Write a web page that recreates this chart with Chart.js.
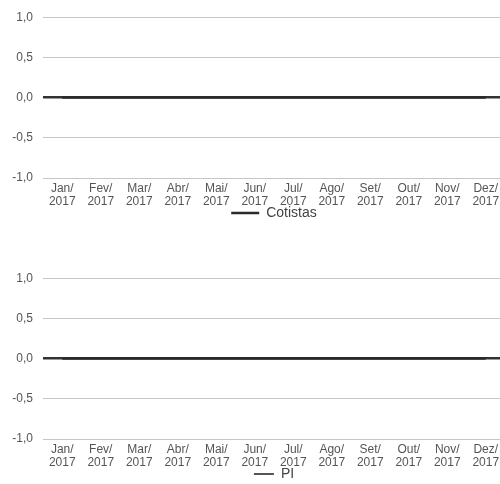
<!DOCTYPE html>
<html>
<head>
<meta charset="utf-8">
<script src="https://cdn.jsdelivr.net/npm/chart.js@4"></script>
<style>
  html, body { margin: 0; padding: 0; background: #fff; overflow: hidden; }
  body { width: 500px; height: 484px; position: relative; }
  .wrap { position: absolute; left: 0; width: 507px; height: 230px; }
  #w1 { top: 0; }
  #w2 { top: 261px; }
</style>
</head>
<body>
<div class="wrap" id="w1"><canvas id="c1"></canvas></div>
<div class="wrap" id="w2"><canvas id="c2"></canvas></div>
<script>
// Monthly categories (two-line labels: month / year)
const months = ["Jan/", "Fev/", "Mar/", "Abr/", "Mai/", "Jun/", "Jul/", "Ago/", "Set/", "Out/", "Nov/", "Dez/"];
const year = "2017";
// Y axis tick values and their printed labels
const yTicks = [1.0, 0.5, 0.0, -0.5, -1.0];
const yTickLabels = ["1,0", "0,5", "0,0", "-0,5", "-1,0"];
// Series values per month
const cotistas = [0, 0, 0, 0, 0, 0, 0, 0, 0, 0, 0, 0];
const pl = [0, 0, 0, 0, 0, 0, 0, 0, 0, 0, 0, 0];

const labels = months.map(m => [m, year]);
const FONT = "'Liberation Sans', Arial, sans-serif";

// Center the legend under the plot area instead of the whole canvas
const legendUnderPlot = {
  id: 'legendUnderPlot',
  afterLayout(chart) {
    const lg = chart.legend;
    if (!lg) return;
    const plotCenter = (chart.chartArea.left + chart.chartArea.right) / 2;
    const boxCenter = (lg.left + lg.right) / 2;
    const dx = plotCenter - boxCenter;
    lg.left += dx;
    lg.right += dx;
  }
};

function makeChart(canvasId, seriesName, values, lineColor, keyColor, keyWidth, keyHeight) {
  return new Chart(document.getElementById(canvasId), {
    type: 'line',
    data: {
      labels: labels,
      datasets: [{
        label: seriesName,
        data: values,
        borderColor: lineColor,
        backgroundColor: keyColor,
        borderWidth: 2.5,
        pointRadius: 0,
        tension: 0
      }]
    },
    plugins: [legendUnderPlot],
    options: {
      responsive: true,
      maintainAspectRatio: false,
      animation: false,
      layout: { padding: { top: 17, right: 2, left: 0, bottom: 0 } },
      plugins: {
        tooltip: { enabled: false },
        legend: {
          position: 'bottom',
          labels: {
            boxWidth: keyWidth,
            boxHeight: keyHeight,
            padding: 1,
            color: '#444',
            font: { family: FONT, size: 14 },
            generateLabels: chart => chart.data.datasets.map((ds, i) => ({
              text: ds.label,
              fillStyle: ds.backgroundColor,
              strokeStyle: ds.backgroundColor,
              lineWidth: 0,
              fontColor: '#444',
              datasetIndex: i
            }))
          }
        }
      },
      scales: {
        x: {
          offset: true,
          grid: { display: false, drawTicks: false },
          border: { display: false },
          ticks: {
            padding: 4,
            maxRotation: 0,
            autoSkip: false,
            color: '#555',
            font: { family: FONT, size: 12, lineHeight: 1.1 }
          },
          afterFit: s => { s.height = 27; }
        },
        y: {
          min: -1,
          max: 1,
          afterBuildTicks: s => { s.ticks = yTicks.map(v => ({ value: v })); },
          afterFit: s => { s.width = 43; },
          border: { display: false },
          grid: {
            drawTicks: false,
            color: ctx => ctx.tick && ctx.tick.value === 0 ? '#333' : '#c6c6c6',
            lineWidth: ctx => ctx.tick && ctx.tick.value === 0 ? 2.5 : 1
          },
          ticks: {
            padding: 10,
            color: '#555',
            font: { family: FONT, size: 12 },
            callback: v => yTickLabels[yTicks.indexOf(v)]
          }
        }
      }
    }
  });
}

makeChart('c1', 'Cotistas', cotistas, '#2a2a2a', '#2a2a2a', 28, 2.5);
makeChart('c2', 'PI', pl, '#2a2a2a', '#555', 20, 2);
</script>
</body>
</html>
